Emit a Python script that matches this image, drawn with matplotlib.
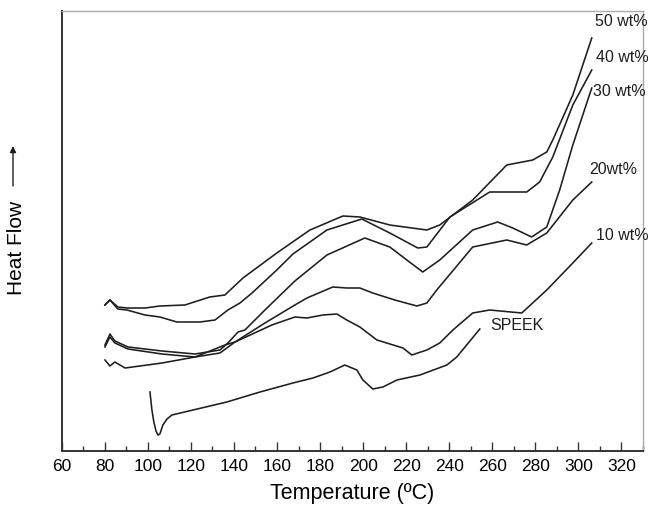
import matplotlib
matplotlib.use("Agg")
import matplotlib.pyplot as plt

plt.rcParams['font.family'] = ['Liberation Sans', 'DejaVu Sans']

# ---- data (temperature in °C, heat flow in arbitrary units) ----
t_50 = [80.1, 82.4, 86.1, 90.3, 98.7, 105.6, 117.2, 128.8, 135.8, 144.2, 159.9, 175.3,
        190.6, 198.5, 212.4, 229.6, 235.6, 250.9, 266.7, 278.8, 285.3, 288.1, 297.4, 306.2]
hf_50 = [146, 151, 144, 143, 143, 145, 146, 154, 156, 173, 198, 221,
         235, 234, 226, 221, 226, 251, 286, 291, 299, 311, 356, 413]

t_40 = [80.1, 82.4, 86.1, 90.3, 98.7, 105.6, 113.5, 124.2, 131.2, 137.2, 142.8, 148.4, 159.9,
        167.4, 183.2, 199.4, 212.4, 225.4, 229.6, 240.3, 258.8, 276.0, 282.0, 288.1, 297.4, 306.2]
hf_40 = [146, 151, 142, 141, 136, 134, 129, 129, 131, 141, 148, 158, 181,
         197, 221, 232, 218, 203, 204, 234, 259, 259, 269, 294, 346, 381]

t_30 = [80.1, 82.4, 84.7, 90.8, 106.6, 121.9, 133.5, 137.2, 141.9, 145.1, 154.4, 168.3, 183.2,
        200.8, 212.4, 220.3, 227.7, 235.6, 250.9, 262.5, 269.5, 278.3, 285.3, 291.3, 297.4, 306.2]
hf_30 = [106, 117, 110, 104, 100, 97, 101, 108, 119, 121, 141, 170, 196,
         213, 204, 191, 179, 191, 221, 229, 223, 214, 224, 261, 306, 363]

t_20 = [80.1, 82.4, 84.7, 90.8, 106.6, 121.9, 133.5, 140.5, 154.4, 168.3, 173.9, 185.9, 192.4,
        198.5, 204.5, 214.7, 225.0, 229.6, 234.2, 250.9, 266.7, 276.0, 285.3, 297.4, 306.2]
hf_20 = [104, 114, 108, 102, 97, 94, 98, 109, 128, 146, 153, 164, 163,
         163, 158, 151, 145, 148, 161, 204, 211, 206, 218, 251, 269]

t_10 = [80.1, 82.4, 84.7, 89.4, 106.6, 121.9, 135.8, 140.5, 157.6, 168.3, 173.9, 181.3, 187.8,
        192.4, 198.5, 206.4, 218.5, 222.6, 229.6, 235.6, 241.7, 250.9, 258.8, 273.7, 285.3, 297.4, 306.2]
hf_10 = [91, 85, 89, 83, 88, 94, 106, 109, 126, 134, 133, 136, 137,
         131, 124, 111, 103, 96, 101, 108, 121, 138, 141, 138, 161, 188, 208]

t_speek = [101.0, 101.9, 102.8, 103.8, 104.7, 105.6, 107.0, 108.9, 111.2, 121.0, 136.7, 152.1, 167.4,
           176.7, 184.6, 191.5, 197.1, 199.9, 204.5, 209.2, 215.7, 226.4, 238.9, 243.5, 254.2]
hf_speek = [59, 41, 29, 20, 16, 17, 26, 32, 36, 41, 49, 59, 68,
            73, 79, 86, 81, 71, 62, 64, 71, 76, 86, 94, 122]

series_labels = ["50 wt%", "40 wt%", "30 wt%", "20wt%", "10 wt%", "SPEEK"]
label_t = [319.7, 320.2, 318.8, 316.2, 320.5, 271.4]
label_hf = [429, 394, 359, 281, 216, 126]

x_ticks = list(range(60, 321, 20))
x_minor = list(range(70, 331, 20))

# ---- figure ----
W, H = 648, 509
fig = plt.figure(figsize=(W / 100, H / 100), dpi=100)
ax = fig.add_axes([61.7 / W, 1 - 451 / H, (643 - 61.7) / W, (451 - 10.7) / H])

line_kw = dict(color="#1e1e1e", lw=1.15)
for t, hf in [(t_50, hf_50), (t_40, hf_40), (t_30, hf_30),
              (t_20, hf_20), (t_10, hf_10), (t_speek, hf_speek)]:
    ax.plot(t, hf, **line_kw)

ax.set_xlim(60, 329.9)
ax.set_ylim(0, 440.3)

ax.set_xticks(x_ticks)
ax.set_xticks(x_minor, minor=True)
ax.set_yticks([])
ax.tick_params(axis="x", which="major", direction="in", length=6.5, width=1.0,
               labelsize=12.5, pad=6, color="#333333")
ax.tick_params(axis="x", which="minor", direction="in", length=3.5, width=1.0,
               color="#333333")

for s in ["left", "bottom"]:
    ax.spines[s].set_color("#333333")
    ax.spines[s].set_linewidth(1.4)
for s in ["top", "right"]:
    ax.spines[s].set_color("#aaaaaa")
    ax.spines[s].set_linewidth(1.0)

ax.set_xlabel("Temperature (ºC)", fontsize=15.5, labelpad=6)

for lab, tx, hy in zip(series_labels, label_t, label_hf):
    ax.text(tx, hy, lab, fontsize=11.5, ha="center", va="center", color="#1e1e1e")

# y-axis label with arrow
fig.text(17 / W, 1 - 247.5 / H, "Heat Flow", rotation=90, fontsize=15,
         ha="center", va="center")
ax.annotate("", xy=(13 / W, 1 - 146 / H), xytext=(13 / W, 1 - 186 / H),
            xycoords="figure fraction", textcoords="figure fraction",
            arrowprops=dict(arrowstyle="-|>", color="#1e1e1e", lw=1.0,
                            mutation_scale=9, shrinkA=0, shrinkB=0))

fig.savefig("out.png", dpi=100)
